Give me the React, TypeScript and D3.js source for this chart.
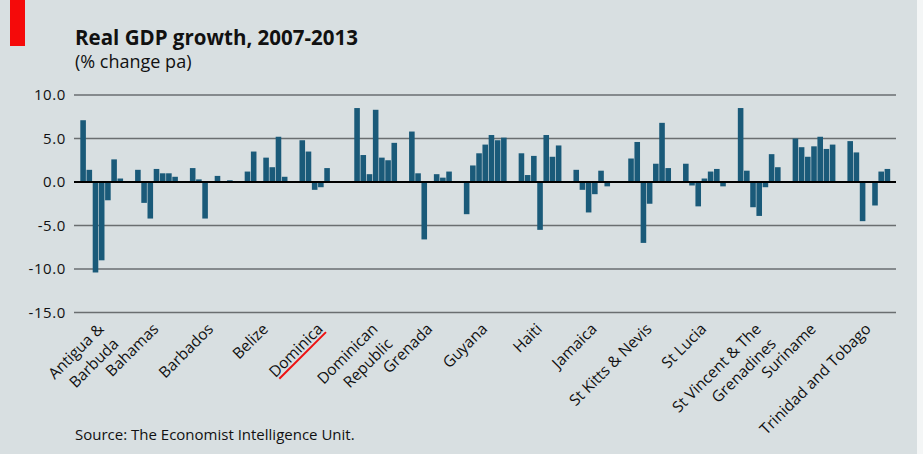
import React from "react";
import * as d3 from "d3";

const countries = [
  "Antigua & Barbuda", "Bahamas", "Barbados", "Belize", "Dominica",
  "Dominican Republic", "Grenada", "Guyana", "Haiti", "Jamaica",
  "St Kitts & Nevis", "St Lucia", "St Vincent & The Grenadines", "Suriname",
  "Trinidad and Tobago",
];
const labelLines = [
  ["Antigua &", "Barbuda"], ["Bahamas"], ["Barbados"], ["Belize"], ["Dominica"],
  ["Dominican", "Republic"], ["Grenada"], ["Guyana"], ["Haiti"], ["Jamaica"],
  ["St Kitts & Nevis"], ["St Lucia"], ["St Vincent & The", "Grenadines"], ["Suriname"],
  ["Trinidad and Tobago"],
];
const years = ["2007", "2008", "2009", "2010", "2011", "2012", "2013"];

const antigua = [7.1, 1.4, -10.4, -9.0, -2.1, 2.6, 0.4];
const bahamas = [1.4, -2.4, -4.2, 1.5, 1.0, 1.0, 0.6];
const barbados = [1.6, 0.3, -4.2, 0.1, 0.7, 0.1, 0.2];
const belize = [1.2, 3.5, 0.0, 2.8, 1.7, 5.2, 0.6];
const dominica = [4.8, 3.5, -0.9, -0.6, 1.6, -0.1, 0.0];
const dominicanRep = [8.5, 3.1, 0.9, 8.3, 2.8, 2.5, 4.5];
const grenada = [5.8, 1.0, -6.6, 0.0, 0.9, 0.5, 1.2];
const guyana = [-3.7, 1.9, 3.3, 4.3, 5.4, 4.8, 5.1];
const haiti = [3.3, 0.8, 3.0, -5.5, 5.4, 2.9, 4.2];
const jamaica = [1.4, -0.9, -3.5, -1.4, 1.3, -0.5, 0.0];
const stKitts = [2.7, 4.6, -7.0, -2.5, 2.1, 6.8, 1.6];
const stLucia = [2.1, -0.4, -2.8, 0.4, 1.2, 1.5, -0.5];
const stVincent = [8.5, 1.3, -2.9, -3.9, -0.6, 3.2, 1.7];
const suriname = [5.0, 4.0, 2.9, 4.1, 5.2, 3.8, 4.3];
const trinidad = [4.7, 3.4, -4.5, 0.0, -2.7, 1.2, 1.5];

const seriesByCountry = [
  antigua, bahamas, barbados, belize, dominica, dominicanRep, grenada, guyana,
  haiti, jamaica, stKitts, stLucia, stVincent, suriname, trinidad,
];
const yTicks = [10, 5, 0, -5, -10, -15];

const W = 923;
const H = 454;
const FONT = "'Open Sans', 'DejaVu Sans', sans-serif";

export default function App() {
  const x0 = d3.scaleBand<string>().domain(countries).range([80, 890.5]).paddingInner(0.208).paddingOuter(0);
  const x1 = d3.scaleBand<string>().domain(years).range([0, x0.bandwidth()]).paddingInner(0.1).paddingOuter(0.05);
  const y = d3.scaleLinear().domain([-15, 10]).range([312.5, 95]);

  const bars = countries.flatMap((c, i) =>
    years.map((yr, j) => ({ c, yr, v: seriesByCountry[i][j] }))
  );

  return (
    <svg width={W} height={H} style={{ position: "absolute", left: 0, top: 0 }}>
      <rect x={0} y={0} width={W} height={H} fill="#f4f6f6" />
      <rect x={0} y={0} width={917} height={H} fill="#d8dfe1" />
      <rect x={10} y={0} width={15} height={46} fill="#f50a0a" />
      <text x={75} y={45} fontFamily={FONT} fontWeight={700} fontSize={21} fill="#111"
        textLength={283} lengthAdjust="spacingAndGlyphs">Real GDP growth, 2007-2013</text>
      <text x={75} y={68} fontFamily={FONT} fontSize={18} fill="#111">(% change pa)</text>

      {yTicks.map((t) => (
        <g key={t}>
          {t !== 0 && (
            <line x1={74} x2={896} y1={y(t)} y2={y(t)} stroke="#6a6e70" strokeWidth={1.4} />
          )}
          <text x={66} y={y(t) + 5} textAnchor="end" fontFamily={FONT} fontSize={15}
            letterSpacing={0.6} fill="#111">{t.toFixed(1)}</text>
        </g>
      ))}

      {bars.map((b, k) => {
        const bx = (x0(b.c) as number) + (x1(b.yr) as number);
        const y0 = y(0);
        const yv = y(b.v);
        return (
          <rect key={k} x={bx} width={x1.bandwidth()} y={Math.min(y0, yv)}
            height={Math.abs(yv - y0)} fill="#1a5a79" />
        );
      })}
      <line x1={74} x2={896} y1={y(0)} y2={y(0)} stroke="#000" strokeWidth={2.2} />

      {countries.map((c, i) => {
        const cx = (x0(c) as number) + x0.bandwidth() / 2 + 3;
        const lines = labelLines[i];
        return (
          <g key={c} transform={`translate(${cx},330) rotate(-45)`}>
            <text textAnchor="end" fontFamily={FONT} fontSize={15.5} fill="#111">
              {lines.map((l, k) => (
                <tspan key={k} x={0} dy={k === 0 ? 0 : 21}>{l}</tspan>
              ))}
            </text>
            {c === "Dominica" && (
              <line x1={-66} x2={0} y1={3} y2={3} stroke="#ee1111" strokeWidth={2} />
            )}
          </g>
        );
      })}

      <text x={75} y={440} fontFamily={FONT} fontSize={15} fill="#111">
        Source: The Economist Intelligence Unit.
      </text>
    </svg>
  );
}
